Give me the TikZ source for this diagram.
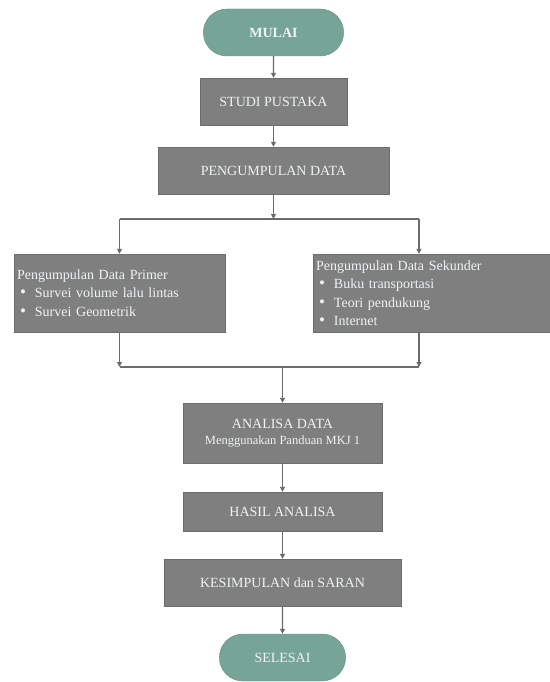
\documentclass[tikz,border=0pt]{standalone}
\usepackage{fontspec}
\setmainfont{Liberation Serif}
\usetikzlibrary{arrows.meta,shapes.misc}

\definecolor{hijau}{HTML}{76A598}
\definecolor{abu}{HTML}{7F7F7F}
\definecolor{garis}{HTML}{6B6B6B}
\definecolor{teks}{HTML}{EEF3F6}

\tikzset{
  proses/.style={draw=abu!85!black, fill=abu, text=teks, inner sep=2pt,
    font=\fontsize{14}{18}\selectfont},
  terminal/.style={rounded rectangle, draw=hijau!85!black, fill=hijau, text=teks,
    minimum width=147pt, minimum height=47pt, font=\fontsize{14}{18}\selectfont},
  daftar/.style={proses, align=left, text width=205pt, inner xsep=2pt,
    font=\fontsize{14}{18.5}\selectfont},
  panah/.style={draw=garis, line width=1.1pt, -{Triangle[length=5pt,width=5pt]}},
  garisbiasa/.style={draw=garis, line width=1.1pt},
}
\newcommand{\butir}{\hspace*{3pt}{\fontsize{17}{18}\selectfont\textbullet}\hspace{9pt}}

\begin{document}
\begin{tikzpicture}[x=1pt,y=-1pt]
\useasboundingbox (0,0) rectangle (549,682);

\node[terminal] (mulai) at (273.5,32.5) {\bfseries MULAI};
\node[proses, minimum width=147pt, minimum height=47pt] (studi) at (273.5,101.5) {STUDI PUSTAKA};
\node[proses, minimum width=231pt, minimum height=47pt] (kumpul) at (273.5,170.5) {PENGUMPULAN DATA};

\node[daftar, minimum width=211pt, minimum height=78pt] (primer) at (119.5,293)
  {Pengumpulan Data Primer\\ \butir Survei volume lalu lintas\\ \butir Survei Geometrik};
\node[daftar, text width=233pt, minimum width=239pt, minimum height=78pt] (sekunder) at (432.5,293)
  {Pengumpulan Data Sekunder\\ \butir Buku transportasi\\ \butir Teori pendukung\\ \butir Internet};

\node[proses, minimum width=199pt, minimum height=60pt, align=center] (analisa) at (282.5,433)
  {ANALISA DATA\\[-2pt] {\fontsize{12.5}{14}\selectfont Menggunakan Panduan MKJ 1}};
\node[proses, minimum width=199pt, minimum height=39pt] (hasil) at (282.5,511.5) {HASIL ANALISA};
\node[proses, minimum width=237pt, minimum height=47pt] (simpul) at (282.5,582.5) {KESIMPULAN dan SARAN};
\node[terminal, minimum width=133pt] (selesai) at (282.5,657.5) {SELESAI};

% cabang ke dua jenis data
\coordinate (cabang) at (273.5,219);
\coordinate (cabangkiri) at (119.5,219);
\coordinate (cabangkanan) at (419,219);
% pertemuan sebelum analisa
\coordinate (gabung) at (282.5,367);
\coordinate (gabungkiri) at (119.5,367);
\coordinate (gabungkanan) at (419,367);

\draw[panah] (mulai) -- (studi);
\draw[panah] (studi) -- (kumpul);
\draw[panah] (kumpul) -- (cabang);
\draw[garisbiasa] (cabangkiri) -- (cabangkanan);
\draw[panah] (cabangkiri) -- (primer);
\draw[panah] (cabangkanan) -- (cabangkanan |- sekunder.north);

\draw[panah] (primer) -- (gabungkiri);
\draw[panah] (cabangkanan |- sekunder.south) -- (gabungkanan);
\draw[garisbiasa] (gabungkiri) -- (gabungkanan);
\draw[panah] (gabung) -- (analisa);

\draw[panah] (analisa) -- (hasil);
\draw[panah] (hasil) -- (simpul);
\draw[panah] (simpul) -- (selesai);

\end{tikzpicture}
\end{document}
